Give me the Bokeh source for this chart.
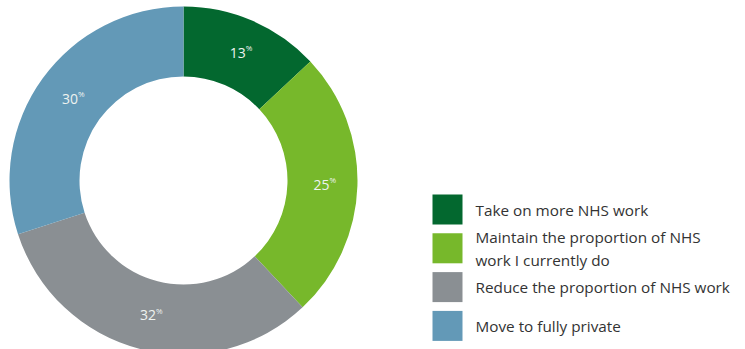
import math
from bokeh.plotting import figure
from bokeh.models import Range1d, ColumnDataSource
from bokeh.core.properties import value
from bokeh.embed import file_html
from bokeh.resources import INLINE

categories = ["Take on more NHS work",
              "Maintain the proportion of NHS\nwork I currently do",
              "Reduce the proportion of NHS work",
              "Move to fully private"]
values = [13, 25, 32, 30]
colors = ["#03682f", "#77b82b", "#8a8f93", "#6399b7"]

W, H = 745, 349
p = figure(width=W, height=H, output_backend="svg", toolbar_location=None,
           x_range=Range1d(0, W), y_range=Range1d(0, H), min_border=0)
p.axis.visible = False
p.grid.visible = False
p.outline_line_color = None
p.background_fill_color = "white"
p.border_fill_color = "white"

cx, cy = 183, H - 180
r_in, r_out = 104, 174
total = sum(values)
starts, ends, lx, ly = [], [], [], []
cum = 0
for v in values:
    a0 = math.pi / 2 - 2 * math.pi * cum / total
    a1 = math.pi / 2 - 2 * math.pi * (cum + v) / total
    starts.append(a0)
    ends.append(a1)
    mid = (a0 + a1) / 2
    rm = (r_in + r_out) / 2
    lx.append(cx + rm * math.cos(mid))
    ly.append(cy + rm * math.sin(mid))
    cum += v

src = ColumnDataSource(dict(start=starts, end=ends, color=colors,
                            lx=lx, ly=ly, num=[str(v) for v in values],
                            pct=["%"] * len(values)))
p.annular_wedge(x=cx, y=cy, inner_radius=r_in, outer_radius=r_out,
                start_angle="start", end_angle="end", direction="clock",
                fill_color="color", line_color=None, source=src)

p.text(x="lx", y="ly", text="num", source=src, text_align="right",
       text_baseline="middle", text_color="#eef3f0", text_font=value("Open Sans"),
       text_font_size="14px", x_offset=7)
p.text(x="lx", y="ly", text="pct", source=src, text_align="left",
       text_baseline="middle", text_color="#eef3f0", text_font=value("Open Sans"),
       text_font_size="8px", x_offset=7, y_offset=-5)

# legend
leg_y = [H - (209 + 38.8 * i) for i in range(len(categories))]
lsrc = ColumnDataSource(dict(y=leg_y, color=colors, label=categories))
p.rect(x=447, y="y", width=30, height=30, fill_color="color", line_color=None, source=lsrc)
p.text(x=475, y="y", text="label", source=lsrc, text_align="left",
       text_baseline="middle", text_color="#333333", text_font=value("Open Sans"),
       text_font_size="15.3px", text_line_height=1.15)

open("out.html", "w").write(file_html(p, INLINE))
